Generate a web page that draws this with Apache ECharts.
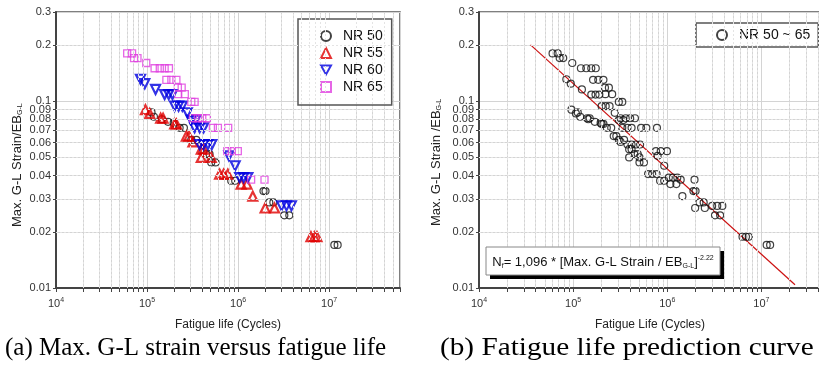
<!DOCTYPE html>
<html>
<head>
<meta charset="utf-8">
<script src="https://cdn.jsdelivr.net/npm/echarts@6/dist/echarts.min.js"></script>
<style>
  html, body { margin: 0; padding: 0; background: #fff; }
  #box { width: 819px; height: 373px; }
</style>
</head>
<body>
<div id="box"></div>
<script>
// [fatigue life (cycles), max G-L strain / EB]
var nr50 = [[112000, 0.087], [119000, 0.0825], [145000, 0.080], [170000, 0.0775], [196000, 0.0765],
  [228000, 0.072], [254000, 0.072], [306000, 0.062], [348000, 0.062], [447000, 0.052], [486000, 0.052],
  [507000, 0.047], [565000, 0.047], [840000, 0.0375], [929000, 0.0375], [1900000, 0.033], [2000000, 0.033],
  [2200000, 0.0287], [2440000, 0.0287], [3220000, 0.0245], [3650000, 0.0245], [11400000, 0.017], [12400000, 0.017]]
var nr55 = [[96000, 0.090], [107000, 0.086], [141000, 0.081], [150000, 0.081], [201000, 0.0755], [210000, 0.0755],
  [270000, 0.065], [288000, 0.065], [319000, 0.0605], [394000, 0.0553], [418000, 0.0553], [394000, 0.050],
  [507000, 0.050], [626000, 0.0407], [692000, 0.0407], [771000, 0.0407], [1080000, 0.036], [1250000, 0.036],
  [1450000, 0.031], [1980000, 0.0268], [2510000, 0.0268], [6310000, 0.0188], [6870000, 0.0188], [7350000, 0.0188]]
var nr60 = [[84700, 0.131], [94400, 0.124], [124000, 0.1155], [156000, 0.1085], [173000, 0.1085], [190000, 0.1085],
  [201000, 0.094], [222000, 0.094], [244000, 0.094], [277000, 0.0866], [306000, 0.0792], [342000, 0.0792],
  [333000, 0.072], [378000, 0.072], [418000, 0.072], [378000, 0.0586], [418000, 0.0586], [466000, 0.0586],
  [515000, 0.0586], [791000, 0.051], [929000, 0.0451], [1040000, 0.039], [1150000, 0.039], [1280000, 0.039],
  [3000000, 0.0275], [3400000, 0.0275], [3850000, 0.0275]]
var nr65 = [[60500, 0.18], [68500, 0.18], [72000, 0.17], [78500, 0.17], [98000, 0.16], [121000, 0.15],
  [138000, 0.15], [156000, 0.15], [174000, 0.15], [163000, 0.13], [185000, 0.13], [210000, 0.13],
  [218000, 0.118], [240000, 0.118], [220000, 0.109], [260000, 0.109], [306000, 0.099], [333000, 0.099],
  [319000, 0.081], [362000, 0.081], [404000, 0.081], [454000, 0.081], [528000, 0.072], [600000, 0.072],
  [778000, 0.072], [760000, 0.054], [853000, 0.054], [993000, 0.054], [1390000, 0.038], [1950000, 0.038]]

// fitted curve end points
var fitLine = [[35300, 0.2], [22800000, 0.0104]]

var xLabelValues = [1e4, 1e5, 1e6, 1e7]
var yLabelValues = [0.01, 0.02, 0.03, 0.04, 0.05, 0.06, 0.07, 0.08, 0.09, 0.1, 0.2, 0.3]

var FONT = 'Liberation Sans'

// minor ticks 2..9 of each decade
var xMinor = []
xLabelValues.forEach(function (d) {
  for (var k = 2; k <= 9; k++) {
    if (d * k <= 6e7) xMinor.push(d * k)
  }
})
var xTickValues = xLabelValues.concat(xMinor)
var yMinor = [0.02, 0.03, 0.04, 0.05, 0.06, 0.07, 0.08, 0.09, 0.2]

function minorLines(xMax) {
  return xMinor.filter(function (v) { return v < xMax })
    .map(function (v) { return { xAxis: v } })
    .concat(yMinor.map(function (v) { return { yAxis: v } }))
}

function xAxisFor(i, xMax) {
  return {
    type: 'log',
    gridIndex: i,
    min: 1e4,
    max: xMax,
    axisLine: { lineStyle: { color: '#444', width: 2 } },
    axisTick: { customValues: xTickValues, length: 4, lineStyle: { color: '#444' } },
    axisLabel: {
      customValues: xLabelValues,
      margin: 9,
      color: '#333',
      fontFamily: FONT,
      fontSize: 11,
      formatter: function (v) {
        return '10{sup|' + Math.round(Math.log10(v)) + '}'
      },
      rich: { sup: { fontSize: 7, fontFamily: FONT, color: '#333', verticalAlign: 'top', padding: [0, 0, 6, 0] } }
    },
    splitLine: { show: true, lineStyle: { color: '#d4d4d4', width: 1 } }
  }
}

function yAxisFor(i) {
  return {
    type: 'log',
    gridIndex: i,
    min: 0.01,
    max: 0.3,
    axisLine: { lineStyle: { color: '#444', width: 2 } },
    axisTick: { customValues: yLabelValues, length: 3, lineStyle: { color: '#444' } },
    axisLabel: {
      customValues: yLabelValues,
      margin: 5,
      color: '#333',
      fontFamily: FONT,
      fontSize: 11,
      formatter: function (v) { return String(+(+v).toFixed(2)) }
    },
    splitLine: { show: true, lineStyle: { color: '#d4d4d4', width: 1 } }
  }
}

function gridLines(i, xMax) {
  return {
    type: 'line',
    xAxisIndex: i,
    yAxisIndex: i,
    data: [],
    silent: true,
    z: 1,
    markLine: {
      silent: true,
      symbol: ['none', 'none'],
      label: { show: false },
      animation: false,
      lineStyle: { color: '#e4e4e4', type: [2, 2], width: 1 },
      data: minorLines(xMax)
    }
  }
}

var circle = { symbol: 'circle', symbolSize: 7, itemStyle: { color: 'rgba(0,0,0,0)', borderColor: '#111', borderWidth: 1.2 } }

function scatter(name, data, look, i) {
  return Object.assign({
    type: 'scatter',
    name: name,
    data: data,
    xAxisIndex: i,
    yAxisIndex: i,
    z: 3,
    animation: false
  }, look)
}

var allPoints = nr50.concat(nr55, nr60, nr65)

var legendText = { fontSize: 14, color: '#111', fontFamily: FONT, padding: [0, 0, 0, 7] }

// panel (b) is cut by the right edge of the picture
var xMaxA = 6e7
var xMaxB = 4.1e7

var myChart = echarts.init(document.getElementById('box'))
myChart.setOption({
  animation: false,
  textStyle: { fontFamily: FONT },
  grid: [
    { left: 56, top: 12, width: 344, height: 276, show: true, borderColor: '#555', borderWidth: 1.5 },
    { left: 479, top: 12, right: -4, height: 276, show: true, borderColor: '#555', borderWidth: 1.5 }
  ],
  xAxis: [xAxisFor(0, xMaxA), xAxisFor(1, xMaxB)],
  yAxis: [yAxisFor(0), yAxisFor(1)],
  legend: [
    {
      orient: 'vertical',
      left: 298,
      top: 19,
      data: ['NR 50', 'NR 55', 'NR 60', 'NR 65'],
      selectedMode: false,
      padding: [10, 9, 11, 22],
      itemGap: 3,
      itemWidth: 10,
      itemHeight: 10,
      borderColor: '#555',
      borderWidth: 1.5,
      backgroundColor: '#fff',
      textStyle: legendText
    },
    {
      orient: 'vertical',
      left: 696,
      top: 23,
      data: ['NR 50 ~ 65'],
      selectedMode: false,
      padding: [5, 8, 5, 20],
      itemWidth: 10,
      itemHeight: 10,
      borderColor: '#555',
      borderWidth: 1.5,
      backgroundColor: '#fff',
      textStyle: legendText
    }
  ],
  series: [
    gridLines(0, xMaxA),
    gridLines(1, xMaxB),
    scatter('NR 50', nr50, circle, 0),
    scatter('NR 55', nr55, { symbol: 'triangle', symbolSize: 9, itemStyle: { color: 'rgba(0,0,0,0)', borderColor: '#e00000', borderWidth: 2.2 } }, 0),
    scatter('NR 60', nr60, { symbol: 'path://M0,0L10,0L5,9Z', symbolSize: 9, itemStyle: { color: 'rgba(0,0,0,0)', borderColor: '#0000e0', borderWidth: 2.2 } }, 0),
    scatter('NR 65', nr65, { symbol: 'rect', symbolSize: 7, itemStyle: { color: 'rgba(0,0,0,0)', borderColor: '#e040e0', borderWidth: 1.3 } }, 0),
    scatter('NR 50 ~ 65', allPoints, circle, 1),
    {
      type: 'line',
      name: 'fit',
      xAxisIndex: 1,
      yAxisIndex: 1,
      data: fitLine,
      symbol: 'none',
      z: 2,
      lineStyle: { color: '#cc1111', width: 1.2 }
    }
  ],
  graphic: [
    {
      type: 'text', left: 5, top: 336,
      style: { text: '(a) Max. G-L strain versus fatigue life', font: '25px "Liberation Serif"', fill: '#000' }
    },
    {
      type: 'text', x: 440, y: 336, scaleX: 1.17,
      style: { text: '(b) Fatigue life prediction curve', font: '25px "Liberation Serif"', fill: '#000' }
    },
    {
      type: 'text', x: 228, y: 325,
      style: { text: 'Fatigue life (Cycles)', font: '12px "Liberation Sans"', fill: '#222', align: 'center', verticalAlign: 'middle' }
    },
    {
      type: 'text', x: 650, y: 325,
      style: { text: 'Fatigue Life (Cycles)', font: '12px "Liberation Sans"', fill: '#222', align: 'center', verticalAlign: 'middle' }
    },
    {
      type: 'text', x: 17, y: 227, rotation: Math.PI / 2,
      style: {
        text: 'Max. G-L Strain/EB{sub|G-L}', font: '13px "Liberation Sans"', fill: '#222', align: 'left', verticalAlign: 'middle',
        rich: { sub: { fontSize: 7, fontFamily: FONT, fill: '#222', padding: [7, 0, 0, 0] } }
      }
    },
    {
      type: 'text', x: 436, y: 226, rotation: Math.PI / 2,
      style: {
        text: 'Max. G-L Strain /EB{sub|G-L}', font: '13px "Liberation Sans"', fill: '#222', align: 'left', verticalAlign: 'middle',
        rich: { sub: { fontSize: 7, fontFamily: FONT, fill: '#222', padding: [7, 0, 0, 0] } }
      }
    },
    { type: 'rect', z: 100, shape: { x: 490, y: 251, width: 234, height: 28 }, style: { fill: '#000' } },
    { type: 'rect', z: 101, shape: { x: 486, y: 247, width: 234, height: 28 }, style: { fill: '#fff', stroke: '#888', lineWidth: 1 } },
    {
      type: 'text', z: 102, x: 603, y: 262,
      style: {
        text: 'N{sub|f}= 1,096 * [Max. G-L Strain / EB{sub|G-L}]{sup|-2.22}',
        font: '13px "Liberation Sans"', fill: '#111', align: 'center', verticalAlign: 'middle',
        rich: {
          sub: { fontSize: 7, fontFamily: FONT, fill: '#111', padding: [8, 0, 0, 0] },
          sup: { fontSize: 7, fontFamily: FONT, fill: '#111', padding: [0, 0, 8, 0] }
        }
      }
    }
  ]
})
</script>
</body>
</html>
